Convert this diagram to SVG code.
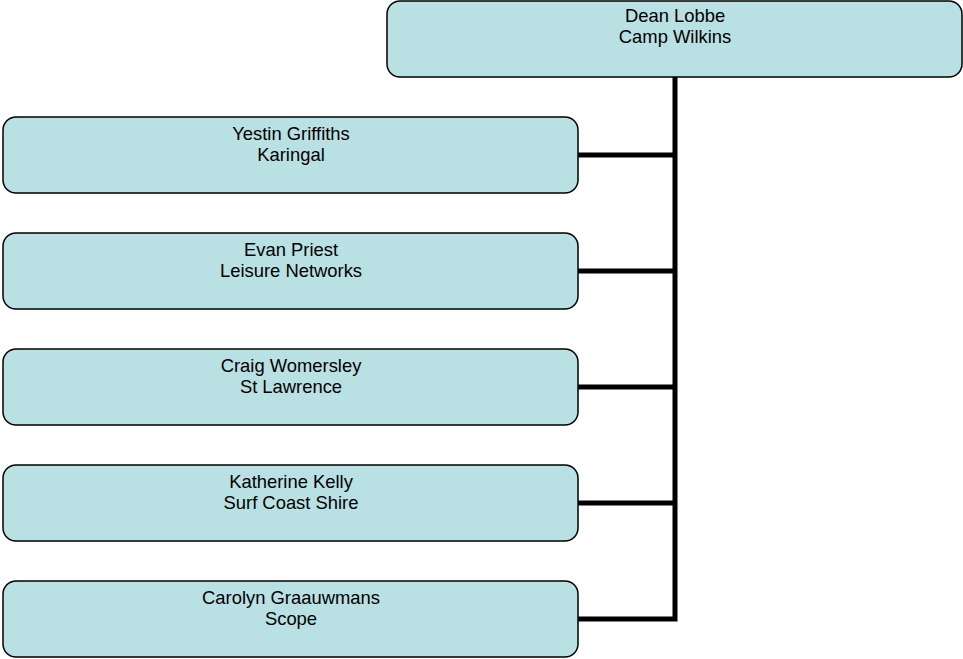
<svg xmlns="http://www.w3.org/2000/svg" width="963" height="659" viewBox="0 0 963 659">
<style>
.box{fill:#b9e0e3;stroke:#000;stroke-width:1.5}
.t{font-family:"Liberation Sans",Arial,sans-serif;font-size:18.4px;fill:#000;text-anchor:middle}
.c{stroke:#000;stroke-width:5;fill:none}
</style>
<rect width="963" height="659" fill="#fff"/>
<g id="connectors">
<path class="c" d="M675,77 V619 H578"/>
<path class="c" d="M578,155 H675"/>
<path class="c" d="M578,271 H675"/>
<path class="c" d="M578,387 H675"/>
<path class="c" d="M578,503 H675"/>
</g>
<g id="dean">
<rect class="box" x="387" y="1" width="575" height="76" rx="13"/>
<text class="t" x="675" y="22">Dean Lobbe</text>
<text class="t" x="675" y="43">Camp Wilkins</text>
</g>
<g id="yestin">
<rect class="box" x="3" y="117" width="575" height="76" rx="13"/>
<text class="t" x="291" y="139.5">Yestin Griffiths</text>
<text class="t" x="291" y="160.5">Karingal</text>
</g>
<g id="evan">
<rect class="box" x="3" y="233" width="575" height="76" rx="13"/>
<text class="t" x="291" y="255.5">Evan Priest</text>
<text class="t" x="291" y="276.5">Leisure Networks</text>
</g>
<g id="craig">
<rect class="box" x="3" y="349" width="575" height="76" rx="13"/>
<text class="t" x="291" y="371.5">Craig Womersley</text>
<text class="t" x="291" y="392.5">St Lawrence</text>
</g>
<g id="katherine">
<rect class="box" x="3" y="465" width="575" height="76" rx="13"/>
<text class="t" x="291" y="487.5">Katherine Kelly</text>
<text class="t" x="291" y="508.5">Surf Coast Shire</text>
</g>
<g id="carolyn">
<rect class="box" x="3" y="581" width="575" height="76" rx="13"/>
<text class="t" x="291" y="603.5">Carolyn Graauwmans</text>
<text class="t" x="291" y="624.5">Scope</text>
</g>
</svg>
